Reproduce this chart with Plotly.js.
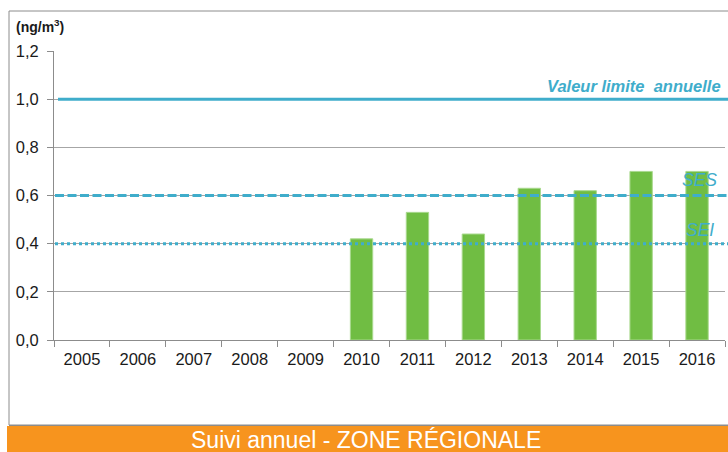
<!DOCTYPE html>
<html>
<head>
<meta charset="utf-8">
<script src="https://cdn.plot.ly/plotly-3.0.1.min.js"></script>
<style>html,body{margin:0;padding:0;background:#fff;}#chart{width:728px;height:452px;}</style>
</head>
<body>
<div id="chart"></div>
<script>
const years = ['2005','2006','2007','2008','2009','2010','2011','2012','2013','2014','2015','2016'];
const values = [null, null, null, null, null, 0.42, 0.53, 0.44, 0.63, 0.62, 0.70, 0.70];
const limitValue = 1.0;
const sesValue = 0.6;
const seiValue = 0.4;
const yTicks = [0, 0.2, 0.4, 0.6, 0.8, 1.0, 1.2];

const blue = '#3FADCB';
const W = 728, H = 452, L = 54, R = 3, T = 51, B = 112;
const pw = W - L - R, ph = H - T - B;
const px = x => (x - L) / pw;
const py = y => (H - B - y) / ph;

const trace = {
  type: 'bar', x: years, y: values, width: 0.4,
  marker: {color: '#70BD43', line: {color: '#A9D98E', width: 1}},
  hoverinfo: 'x+y'
};

const bandPath = 'M ' + px(7) + ' ' + py(426) + ' L ' + px(740) + ' ' + py(426) + ' L ' + px(740) + ' ' + py(460) +
  ' L ' + px(7) + ' ' + py(460) + ' Z';

const layout = {
  width: W, height: H,
  margin: {l: L, r: R, t: T, b: B, pad: 0},
  paper_bgcolor: '#fff', plot_bgcolor: '#fff',
  separators: ', ',
  showlegend: false,
  font: {family: 'Liberation Sans, Arial, sans-serif', size: 16, color: '#1a1a1a'},
  xaxis: {
    type: 'category', tickson: 'boundaries', ticks: 'outside', ticklen: 6, tickcolor: '#8c8c8c',
    showline: true, linecolor: '#8c8c8c', linewidth: 1, showgrid: false,
    tickfont: {size: 16.5, color: '#1a1a1a'}, ticklabelstandoff: 4, fixedrange: true
  },
  yaxis: {
    range: [0, 1.2], tickvals: yTicks, tickformat: '.1f', ticks: 'outside', ticklen: 6, tickcolor: '#8c8c8c',
    showline: true, linecolor: '#8c8c8c', linewidth: 1, gridcolor: '#a6a6a6', gridwidth: 1,
    zeroline: false, tickfont: {size: 16.5, color: '#1a1a1a'}, ticklabelstandoff: 5, fixedrange: true
  },
  shapes: [
    {type: 'rect', xref: 'paper', yref: 'paper', x0: px(9), x1: px(740), y0: py(425), y1: py(11),
      line: {color: '#8c8c8c', width: 1}, fillcolor: 'rgba(0,0,0,0)', layer: 'below'},
    {type: 'path', xref: 'paper', yref: 'paper', path: bandPath,
      fillcolor: '#F7941E', line: {width: 0}, layer: 'above'},
    {type: 'line', xref: 'paper', yref: 'paper', x0: px(9), x1: px(740), y0: py(425.5), y1: py(425.5),
      line: {color: '#8c8c8c', width: 1}},
    {type: 'line', xref: 'paper', yref: 'y', x0: px(58), x1: px(730), y0: limitValue, y1: limitValue,
      line: {color: blue, width: 3}},
    {type: 'line', xref: 'paper', yref: 'y', x0: px(55), x1: px(730), y0: sesValue, y1: sesValue,
      line: {color: blue, width: 3, dash: '9px,3.5px'}},
    {type: 'line', xref: 'paper', yref: 'y', x0: px(55), x1: px(730), y0: seiValue, y1: seiValue,
      line: {color: blue, width: 3, dash: '3px,3px'}}
  ],
  annotations: [
    {xref: 'paper', yref: 'paper', x: px(14), y: py(26), xanchor: 'left', yanchor: 'middle', showarrow: false,
      text: '<b>(ng/m<sup>3</sup>)</b>', font: {size: 14, color: '#1a1a1a'}},
    {xref: 'paper', yref: 'y', x: px(723), y: limitValue, yshift: 13, xanchor: 'right', yanchor: 'middle', showarrow: false,
      text: '<b><i>Valeur limite  annuelle</i></b>', font: {size: 16.5, color: blue}},
    {xref: 'paper', yref: 'y', x: px(719), y: sesValue, yshift: 16, xanchor: 'right', yanchor: 'middle', showarrow: false,
      text: '<i>SES</i>', font: {size: 17.5, color: blue}},
    {xref: 'paper', yref: 'y', x: px(716), y: seiValue, yshift: 14, xanchor: 'right', yanchor: 'middle', showarrow: false,
      text: '<i>SEI</i>', font: {size: 17.5, color: blue}},
    {xref: 'paper', yref: 'paper', x: px(366), y: py(439.5), xanchor: 'center', yanchor: 'middle', showarrow: false,
      text: 'Suivi annuel - ZONE RÉGIONALE', font: {size: 23, color: '#ffffff'}}
  ]
};

Plotly.newPlot('chart', [trace], layout, {displayModeBar: false, staticPlot: true});
</script>
</body>
</html>
